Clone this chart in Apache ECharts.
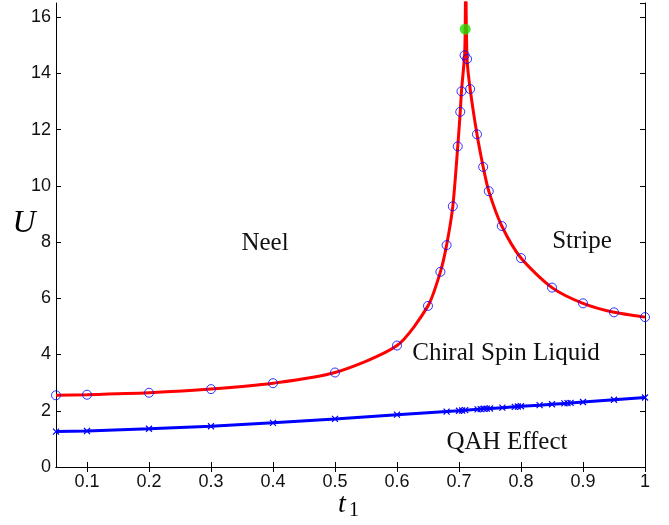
<!DOCTYPE html>
<html><head><meta charset="utf-8">
<script src="https://cdn.jsdelivr.net/npm/echarts@6/dist/echarts.min.js"></script>
<style>html,body{margin:0;padding:0;background:#fff}#c{width:669px;height:525px}</style>
</head><body><div id="c"></div><script>
// tick labels
const xTicks = [0.1, 0.2, 0.3, 0.4, 0.5, 0.6, 0.7, 0.8, 0.9, 1];
// red boundary, left branch (Neel / Chiral Spin Liquid), circles
const leftX = [0.05, 0.1, 0.2, 0.3, 0.4, 0.5, 0.6, 0.65, 0.67, 0.68, 0.69, 0.698, 0.702, 0.704, 0.709];
const leftU = [2.55, 2.57, 2.64, 2.77, 2.98, 3.36, 4.32, 5.73, 6.94, 7.89, 9.27, 11.40, 12.63, 13.36, 14.64];
// red boundary, right branch (Stripe / Chiral Spin Liquid), circles
const rightX = [0.713, 0.718, 0.729, 0.739, 0.748, 0.769, 0.80, 0.85, 0.90, 0.95, 1.0];
const rightU = [14.51, 13.44, 11.83, 10.67, 9.81, 8.57, 7.43, 6.38, 5.82, 5.50, 5.33];
// critical point (green)
const critX = [0.710];
const critU = [15.57];
// extension of the fitted red line above the plot top
const topLeftX = [0.710, 0.7105], topLeftU = [15.57, 17.2];
const topRightX = [0.7112], topRightU = [17.2];
// blue QAH boundary, crosses
const qahX = [0.05, 0.1, 0.2, 0.3, 0.4, 0.5, 0.6, 0.68, 0.70, 0.705, 0.71, 0.73, 0.735, 0.74, 0.745, 0.75, 0.77, 0.79, 0.795, 0.80, 0.83, 0.85, 0.87, 0.875, 0.88, 0.90, 0.95, 1.0];
const qahU = [1.26, 1.28, 1.36, 1.45, 1.57, 1.71, 1.86, 1.97, 2.00, 2.01, 2.02, 2.05, 2.06, 2.07, 2.075, 2.08, 2.11, 2.14, 2.15, 2.16, 2.20, 2.23, 2.26, 2.27, 2.28, 2.31, 2.39, 2.47];

const zip = (a, b) => a.map((v, i) => [v, b[i]]);
const leftLine = zip(leftX, leftU).concat(zip(topLeftX, topLeftU));
const rightLine = zip(topRightX, topRightU).concat(zip(rightX, rightU));

const chart = echarts.init(document.getElementById('c'), null, {renderer: 'canvas'});
const tickFont = {fontFamily: 'Liberation Sans, Arial, sans-serif', fontSize: 18, color: '#111'};
const axisLine = {show: true, lineStyle: {color: '#000', width: 1}};
const serif = 'Liberation Serif, Times New Roman, serif';

chart.setOption({
  animation: false,
  backgroundColor: '#fff',
  grid: {left: 56, right: 24, top: 3, bottom: 58, containLabel: false},
  xAxis: [{
    type: 'value', min: 0.05, max: 1, position: 'bottom',
    axisLine: axisLine,
    axisTick: {inside: true, length: 5, customValues: xTicks, lineStyle: {color: '#000'}},
    axisLabel: Object.assign({customValues: xTicks, margin: 6}, tickFont),
    splitLine: {show: false}
  }, {
    type: 'value', min: 0.05, max: 1, position: 'top',
    axisLine: axisLine,
    axisTick: {inside: true, length: 5, customValues: xTicks, lineStyle: {color: '#000'}},
    axisLabel: {show: false},
    splitLine: {show: false}
  }],
  yAxis: [{
    type: 'value', min: 0, max: 16.5, interval: 2, position: 'left',
    axisLine: axisLine,
    axisTick: {inside: true, length: 5, lineStyle: {color: '#000'}},
    axisLabel: Object.assign({margin: 5, showMaxLabel: false}, tickFont),
    splitLine: {show: false}
  }, {
    type: 'value', min: 0, max: 16.5, interval: 2, position: 'right',
    axisLine: axisLine,
    axisTick: {inside: true, length: 5, lineStyle: {color: '#000'}},
    axisLabel: {show: false},
    splitLine: {show: false}
  }],
  series: [
    {type: 'line', data: zip(qahX, qahU), symbol: 'path://M0,0L10,10M10,0L0,10', symbolSize: 6,
     showAllSymbol: true,
     lineStyle: {color: '#0000ff', width: 3}, itemStyle: {color: 'none', borderColor: '#0000ff', borderWidth: 1.2}, z: 2},
    {type: 'line', data: leftLine, smooth: 0.25, showSymbol: false, lineStyle: {color: '#ff0000', width: 3}, z: 3},
    {type: 'line', data: rightLine, smooth: 0.25, showSymbol: false, lineStyle: {color: '#ff0000', width: 3}, z: 3},
    {type: 'scatter', data: zip(leftX, leftU).concat(zip(rightX, rightU)), symbol: 'circle', symbolSize: 9,
     itemStyle: {color: 'rgba(0,0,0,0)', borderColor: '#0000ff', borderWidth: 1}, z: 4},
    {type: 'scatter', data: zip(critX, critU), symbol: 'circle', symbolSize: 11,
     itemStyle: {color: '#22dd00'}, z: 5}
  ],
  graphic: [
    {type: 'text', x: 265, y: 243, style: {text: 'Neel', font: '25px ' + serif, fill: '#111', textAlign: 'center', textVerticalAlign: 'middle'}},
    {type: 'text', x: 582, y: 241, style: {text: 'Stripe', font: '25px ' + serif, fill: '#111', textAlign: 'center', textVerticalAlign: 'middle'}},
    {type: 'text', x: 506, y: 353, style: {text: 'Chiral Spin Liquid', font: '25px ' + serif, fill: '#111', textAlign: 'center', textVerticalAlign: 'middle'}},
    {type: 'text', x: 507, y: 442, style: {text: 'QAH Effect', font: '25px ' + serif, fill: '#111', textAlign: 'center', textVerticalAlign: 'middle'}},
    {type: 'text', x: 24, y: 224, style: {text: 'U', font: 'italic 32px ' + serif, fill: '#000', textAlign: 'center', textVerticalAlign: 'middle'}},
    {type: 'text', x: 342, y: 505, style: {text: 't', font: 'italic 28px ' + serif, fill: '#000', textAlign: 'center', textVerticalAlign: 'middle'}},
    {type: 'text', x: 354, y: 511, style: {text: '1', font: '20px ' + serif, fill: '#000', textAlign: 'center', textVerticalAlign: 'middle'}}
  ]
});
</script></body></html>
